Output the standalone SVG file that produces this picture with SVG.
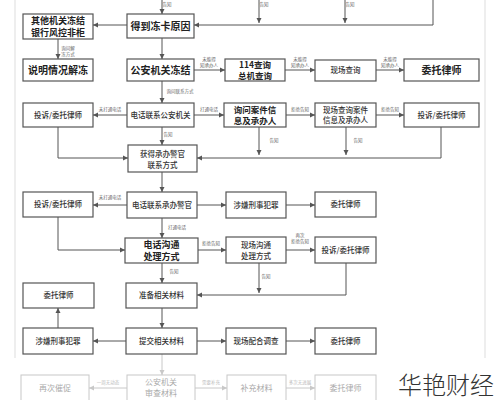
<svg xmlns="http://www.w3.org/2000/svg" width="500" height="400" viewBox="0 0 500 400">
<style>
.bx{fill:#fff;stroke:#555;stroke-width:1.2}
.fb{fill:#fff;stroke:#c8c8c8;stroke-width:1}
.t{font-family:"Noto Sans CJK SC","Liberation Sans",sans-serif;fill:#333;text-anchor:middle;font-size:7.5px;font-weight:500}
.tl{font-family:"Noto Sans CJK SC","Liberation Sans",sans-serif;fill:#222;text-anchor:middle;font-size:10px;font-weight:700}
.t2{font-family:"Noto Sans CJK SC","Liberation Sans",sans-serif;fill:#222;text-anchor:middle;font-size:8.5px;font-weight:700}
.tf{font-family:"Noto Sans CJK SC","Liberation Sans",sans-serif;fill:#aaa;text-anchor:middle;font-size:8px}
.lb{font-family:"Noto Sans CJK SC","Liberation Sans",sans-serif;fill:#666;text-anchor:middle;font-size:4.5px}
.lf{font-family:"Noto Sans CJK SC","Liberation Sans",sans-serif;fill:#bbb;text-anchor:middle;font-size:4.5px}
.c{fill:none;stroke:#555;stroke-width:1;marker-end:url(#ah)}
.cf{fill:none;stroke:#c8c8c8;stroke-width:1;marker-end:url(#af)}
.fr{stroke:#ddd;stroke-width:1}
</style>
<defs>
<marker id="ah" markerWidth="6" markerHeight="6" refX="5" refY="3" orient="auto" markerUnits="userSpaceOnUse"><path d="M0,0.5 L5,3 L0,5.5 Z" fill="#555"/></marker>
<marker id="af" markerWidth="6" markerHeight="6" refX="5" refY="3" orient="auto" markerUnits="userSpaceOnUse"><path d="M0,0.5 L5,3 L0,5.5 Z" fill="#c8c8c8"/></marker>
</defs>
<rect width="500" height="400" fill="#fff"/>
<line class="fr" x1="15" y1="0" x2="15" y2="358"/>
<line class="fr" x1="485" y1="0" x2="485" y2="358"/>

<g id="connectors">
<path class="c" d="M162,0 V14"/>
<path class="c" d="M259,0 V23"/>
<path class="c" d="M345,0 V23"/>
<path class="c" d="M433,0 V25 H194"/>
<path class="c" d="M127,25 H93"/>
<path class="c" d="M58,39 V59"/>
<path class="c" d="M162,38 V59"/>
<path class="c" d="M194,70 H225"/>
<path class="c" d="M285,70 H315"/>
<path class="c" d="M376,70 H404"/>
<path class="c" d="M162,81 V103"/>
<path class="c" d="M127,115 H93"/>
<path class="c" d="M194,115 H224"/>
<path class="c" d="M286,115 H315"/>
<path class="c" d="M376,115 H404"/>
<path class="c" d="M162,127 V145"/>
<path class="c" d="M259,127 V155"/>
<path class="c" d="M346,127 V155"/>
<path class="c" d="M441,127 V158 H197"/>
<path class="c" d="M58,127 V158 H128"/>
<path class="c" d="M162,172 V192"/>
<path class="c" d="M127,205 H93"/>
<path class="c" d="M197,205 H226"/>
<path class="c" d="M286,205 H315"/>
<path class="c" d="M162,218 V238"/>
<path class="c" d="M58,217 V250 H125"/>
<path class="c" d="M198,250 H226"/>
<path class="c" d="M286,250 H315"/>
<path class="c" d="M162,263 V283"/>
<path class="c" d="M259,263 V293"/>
<path class="c" d="M346,263 V295 H197"/>
<path class="c" d="M162,308 V328"/>
<path class="c" d="M58,328 V308"/>
<path class="c" d="M126,341 H93"/>
<path class="c" d="M197,341 H226"/>
<path class="c" d="M286,341 H315"/>
<path class="cf" d="M162,354 V375"/>
<path class="cf" d="M127,388 H89"/>
<path class="cf" d="M195,388 H227"/>
<path class="cf" d="M286,388 H315"/>
<text class="lb" x="167" y="6" text-anchor="start">告知</text>
<text class="lb" x="264" y="6" text-anchor="start">告知</text>
<text class="lb" x="350" y="6" text-anchor="start">告知</text>
<text class="lb" x="68" y="50">询问解<tspan x="68" dy="6">冻方式</tspan></text>
<text class="lb" x="209" y="61">未能得<tspan x="209" dy="6">知承办人</tspan></text>
<text class="lb" x="300" y="61">未能得<tspan x="300" dy="6">知承办人</tspan></text>
<text class="lb" x="390" y="61">未能得<tspan x="390" dy="6">知承办人</tspan></text>
<text class="lb" x="180" y="93">询问联系方式</text>
<text class="lb" x="110" y="111">未打通电话</text>
<text class="lb" x="209" y="111">打通电话</text>
<text class="lb" x="300" y="111">拒绝告知</text>
<text class="lb" x="390" y="111">拒绝告知</text>
<text class="lb" x="168" y="136">告知</text>
<text class="lb" x="274" y="142">告知</text>
<text class="lb" x="358" y="142">告知</text>
<text class="lb" x="110" y="199">未打通电话</text>
<text class="lb" x="177" y="229">打通电话</text>
<text class="lb" x="211" y="245">拒绝告知</text>
<text class="lb" x="300" y="237">再次<tspan x="300" dy="6">拒绝告知</tspan></text>
<text class="lb" x="174" y="273">告知</text>
<text class="lb" x="266" y="278">告知</text>
<text class="lf" x="108" y="384">一周无动态</text>
<text class="lf" x="211" y="384">需要补充</text>
<text class="lf" x="300" y="384">多次无进展</text>
</g>

<g id="n1"><rect class="bx" x="23" y="14" width="70" height="25"/><text class="t2" x="58" y="24" style="font-size:9px">其他机关冻结<tspan x="58" dy="11.5">银行风控非柜</tspan></text></g>
<g id="n2"><rect class="bx" x="127" y="14" width="67" height="24"/><text class="tl" x="160.5" y="29.5">得到冻卡原因</text></g>
<g id="n3"><rect class="bx" x="23" y="59" width="70" height="22"/><text class="tl" x="58" y="73.5">说明情况解冻</text></g>
<g id="n4"><rect class="bx" x="127" y="59" width="67" height="22"/><text class="tl" x="160.5" y="73.5">公安机关冻结</text></g>
<g id="n5"><rect class="bx" x="225" y="59" width="60" height="22"/><text class="t2" x="255" y="68">114查询<tspan x="255" dy="11">总机查询</tspan></text></g>
<g id="n6"><rect class="bx" x="315" y="60" width="61" height="21"/><text class="t" x="345.5" y="73">现场查询</text></g>
<g id="n7"><rect class="bx" x="404" y="59" width="75" height="22"/><text class="tl" x="441.5" y="73.5">委托律师</text></g>
<g id="n8"><rect class="bx" x="23" y="103" width="70" height="24"/><text class="t" x="58" y="118">投诉/委托律师</text></g>
<g id="n9"><rect class="bx" x="127" y="103" width="67" height="24"/><text class="t" x="160.5" y="118">电话联系公安机关</text></g>
<g id="n10"><rect class="bx" x="224" y="103" width="62" height="24"/><text class="t2" x="255" y="112.5">询问案件信<tspan x="255" dy="11.5">息及承办人</tspan></text></g>
<g id="n11"><rect class="bx" x="315" y="103" width="61" height="24"/><text class="t" x="345.5" y="113">现场查询案件<tspan x="345.5" dy="10">信息及承办人</tspan></text></g>
<g id="n12"><rect class="bx" x="404" y="103" width="75" height="24"/><text class="t" x="441.5" y="118">投诉/委托律师</text></g>
<g id="n13"><rect class="bx" x="128" y="145" width="69" height="27"/><text class="t" x="162.5" y="157">获得承办警官<tspan x="162.5" dy="10.5">联系方式</tspan></text></g>
<g id="n14"><rect class="bx" x="23" y="192" width="70" height="25"/><text class="t" x="58" y="207">投诉/委托律师</text></g>
<g id="n15"><rect class="bx" x="127" y="192" width="70" height="26"/><text class="t" x="162" y="208">电话联系承办警官</text></g>
<g id="n16"><rect class="bx" x="226" y="192" width="60" height="26"/><text class="t" x="256" y="208">涉嫌刑事犯罪</text></g>
<g id="n17"><rect class="bx" x="315" y="192" width="61" height="25"/><text class="t" x="345.5" y="207">委托律师</text></g>
<g id="n18"><rect class="bx" x="125" y="238" width="73" height="25"/><text class="t2" x="161.5" y="248" style="font-size:9px">电话沟通<tspan x="161.5" dy="11.5">处理方式</tspan></text></g>
<g id="n19"><rect class="bx" x="226" y="237" width="60" height="26"/><text class="t" x="256" y="248">现场沟通<tspan x="256" dy="11">处理方式</tspan></text></g>
<g id="n20"><rect class="bx" x="315" y="237" width="61" height="26"/><text class="t" x="345.5" y="253">投诉/委托律师</text></g>
<g id="n21"><rect class="bx" x="23" y="283" width="71" height="25"/><text class="t" x="58.5" y="298">委托律师</text></g>
<g id="n22"><rect class="bx" x="126" y="283" width="71" height="25"/><text class="t" x="161.5" y="298">准备相关材料</text></g>
<g id="n23"><rect class="bx" x="23" y="328" width="70" height="26"/><text class="t" x="58" y="344">涉嫌刑事犯罪</text></g>
<g id="n24"><rect class="bx" x="126" y="328" width="71" height="26"/><text class="t" x="161.5" y="344">提交相关材料</text></g>
<g id="n25"><rect class="bx" x="226" y="328" width="60" height="26"/><text class="t" x="256" y="344">现场配合调查</text></g>
<g id="n26"><rect class="bx" x="315" y="328" width="61" height="26"/><text class="t" x="345.5" y="344">委托律师</text></g>
<g id="n27"><rect class="fb" x="21" y="375" width="68" height="30"/><text class="tf" x="55" y="391">再次催促</text></g>
<g id="n28"><rect class="fb" x="127" y="375" width="68" height="30"/><text class="tf" x="161" y="385">公安机关<tspan x="161" dy="11">审查材料</tspan></text></g>
<g id="n29"><rect class="fb" x="227" y="375" width="59" height="30"/><text class="tf" x="256.5" y="391">补充材料</text></g>
<g id="n30"><rect class="fb" x="315" y="375" width="61" height="30"/><text class="tf" x="345.5" y="391">委托律师</text></g>

<text x="398" y="394" style="font-family:'Noto Sans CJK SC',sans-serif;font-size:24px;font-weight:200;fill:#333">华艳财经</text>
</svg>
